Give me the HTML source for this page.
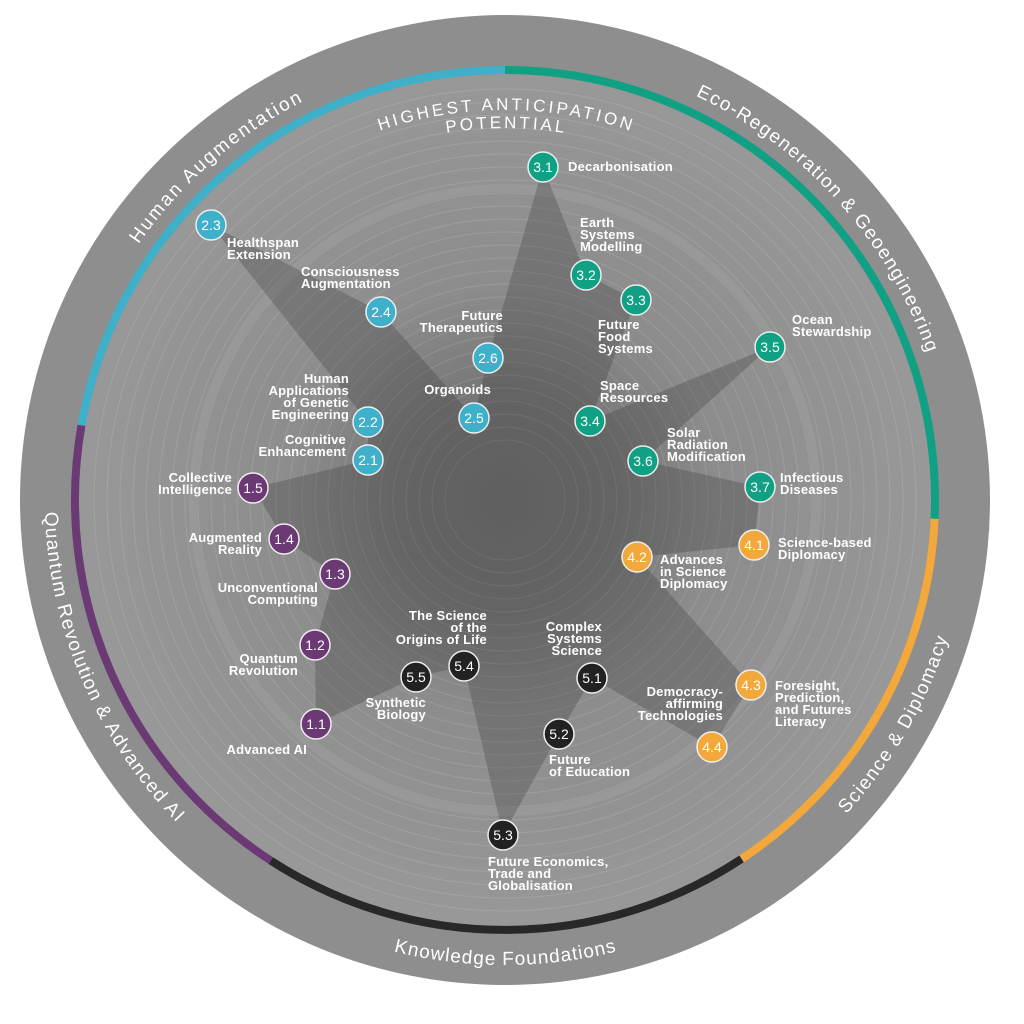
<!DOCTYPE html>
<html><head><meta charset="utf-8"><style>
html,body{margin:0;padding:0;background:#fff;width:1024px;height:1024px;overflow:hidden}
.w{position:relative;width:1024px;height:1024px}
svg{position:absolute;left:0;top:0}
.l{position:absolute;font-family:"Liberation Sans",sans-serif;font-weight:bold;font-size:13px;letter-spacing:0.2px;line-height:12px;color:#fff;white-space:nowrap}
.r{text-align:right}
</style></head><body><div class="w">
<svg width="1024" height="1024" viewBox="0 0 1024 1024">
<defs>
<radialGradient id="cg" cx="505" cy="500" r="426" gradientUnits="userSpaceOnUse">
<stop offset="0" stop-color="#707070"/><stop offset="0.25" stop-color="#767676"/><stop offset="0.5" stop-color="#8c8c8c"/><stop offset="1" stop-color="#989898"/>
</radialGradient>
<path id="pHA" d="M167.6,793.3 A447,447 0 0 1 842.4,206.7"/>
<path id="pEco" d="M205.9,167.8 A447,447 0 0 1 804.1,832.2"/>
<path id="pH1" d="M115,500 A390,390 0 0 1 895,500"/>
<path id="pH2" d="M133,500 A372,372 0 0 1 877,500"/>
<path id="pSci" d="M272.5,902.7 A465,465 0 0 0 737.5,97.3"/>
<path id="pKn" d="M40,500 A465,465 0 0 0 970,500"/>
<path id="pQ" d="M323.3,72 A465,465 0 0 0 686.7,928"/>
</defs>
<circle cx="505" cy="500" r="485" fill="#8e8e8e"/>
<circle cx="505" cy="500" r="426" fill="url(#cg)"/>
<g fill="none" stroke="rgba(255,255,255,0.12)" stroke-width="1">
<circle cx="505" cy="500" r="60"/><circle cx="505" cy="500" r="73"/><circle cx="505" cy="500" r="86"/><circle cx="505" cy="500" r="99"/><circle cx="505" cy="500" r="112"/><circle cx="505" cy="500" r="125"/><circle cx="505" cy="500" r="138"/><circle cx="505" cy="500" r="151"/><circle cx="505" cy="500" r="164"/><circle cx="505" cy="500" r="177"/><circle cx="505" cy="500" r="190"/><circle cx="505" cy="500" r="203"/><circle cx="505" cy="500" r="216"/><circle cx="505" cy="500" r="229"/><circle cx="505" cy="500" r="242"/><circle cx="505" cy="500" r="255"/><circle cx="505" cy="500" r="268"/><circle cx="505" cy="500" r="281"/><circle cx="505" cy="500" r="294"/><circle cx="505" cy="500" r="307"/><circle cx="505" cy="500" r="320"/><circle cx="505" cy="500" r="333"/><circle cx="505" cy="500" r="346"/><circle cx="505" cy="500" r="359"/><circle cx="505" cy="500" r="372"/><circle cx="505" cy="500" r="385"/><circle cx="505" cy="500" r="398"/><circle cx="505" cy="500" r="411"/>
</g>
<circle cx="505" cy="500" r="312" fill="none" stroke="rgba(255,255,255,0.07)" stroke-width="8"/>
<polygon fill="rgba(55,55,55,0.28)" points="543,167 586,275 636,300 590,421 770,347 643,461 760,487 754,545 637,557 751,685 712,747 592,678 559,734 503,835 464,666 416,677 316,724 315,645 335,574 284,539 253,488 368,460 368,422 211,225 381,312 474,418 488,358"/>
<g fill="none" stroke-width="8">
<path d="M505,70 A430,430 0 0 1 934.6,518.8" stroke="#10a083"/>
<path d="M934.6,518.8 A430,430 0 0 1 741.6,858.9" stroke="#f2a83a"/>
<path d="M741.6,858.9 A430,430 0 0 1 270.8,860.6" stroke="#282828"/>
<path d="M270.8,860.6 A430,430 0 0 1 81.5,425.3" stroke="#6b3a75"/>
<path d="M81.5,425.3 A430,430 0 0 1 505,70" stroke="#3eb0c9"/>
</g>
<g font-family="Liberation Sans, sans-serif" fill="#fff" font-size="19" text-anchor="middle">
<text><textPath href="#pHA" startOffset="50%" textLength="220" lengthAdjust="spacing">Human Augmentation</textPath></text>
<text><textPath href="#pEco" startOffset="50%" textLength="355" lengthAdjust="spacing">Eco-Regeneration &amp; Geoengineering</textPath></text>
<text><textPath href="#pSci" startOffset="50%" textLength="205" lengthAdjust="spacing">Science &amp; Diplomacy</textPath></text>
<text><textPath href="#pKn" startOffset="50%" textLength="225" lengthAdjust="spacing">Knowledge Foundations</textPath></text>
<text><textPath href="#pQ" startOffset="50%" textLength="345" lengthAdjust="spacing">Quantum Revolution &amp; Advanced AI</textPath></text>
<text font-size="17"><textPath href="#pH1" startOffset="50%" textLength="255" lengthAdjust="spacing">HIGHEST ANTICIPATION</textPath></text>
<text font-size="17"><textPath href="#pH2" startOffset="50%" textLength="118" lengthAdjust="spacing">POTENTIAL</textPath></text>
</g>
<g stroke="#eee" stroke-width="1.5">
<g fill="#10a083"><circle cx="543" cy="167" r="15"/><circle cx="586" cy="275" r="15"/><circle cx="636" cy="300" r="15"/><circle cx="770" cy="347" r="15"/><circle cx="590" cy="421" r="15"/><circle cx="643" cy="461" r="15"/><circle cx="760" cy="487" r="15"/></g>
<g fill="#f2a83a"><circle cx="754" cy="545" r="15"/><circle cx="637" cy="557" r="15"/><circle cx="751" cy="685" r="15"/><circle cx="712" cy="747" r="15"/></g>
<g fill="#222"><circle cx="592" cy="678" r="15"/><circle cx="559" cy="734" r="15"/><circle cx="503" cy="835" r="15"/><circle cx="464" cy="666" r="15"/><circle cx="416" cy="677" r="15"/></g>
<g fill="#6b3a75"><circle cx="316" cy="724" r="15"/><circle cx="315" cy="645" r="15"/><circle cx="335" cy="574" r="15"/><circle cx="284" cy="539" r="15"/><circle cx="253" cy="488" r="15"/></g>
<g fill="#3eb0c9"><circle cx="368" cy="460" r="15"/><circle cx="368" cy="422" r="15"/><circle cx="211" cy="225" r="15"/><circle cx="381" cy="312" r="15"/><circle cx="474" cy="418" r="15"/><circle cx="488" cy="358" r="15"/></g>
</g>
<g fill="#fff" font-family="Liberation Sans, sans-serif" font-size="14" text-anchor="middle">
<text x="543" y="172">3.1</text><text x="586" y="280">3.2</text><text x="636" y="305">3.3</text><text x="770" y="352">3.5</text><text x="590" y="426">3.4</text><text x="643" y="466">3.6</text><text x="760" y="492">3.7</text>
<text x="754" y="550">4.1</text><text x="637" y="562">4.2</text><text x="751" y="690">4.3</text><text x="712" y="752">4.4</text>
<text x="592" y="683">5.1</text><text x="559" y="739">5.2</text><text x="503" y="840">5.3</text><text x="464" y="671">5.4</text><text x="416" y="682">5.5</text>
<text x="316" y="729">1.1</text><text x="315" y="650">1.2</text><text x="335" y="579">1.3</text><text x="284" y="544">1.4</text><text x="253" y="493">1.5</text>
<text x="368" y="465">2.1</text><text x="368" y="427">2.2</text><text x="211" y="230">2.3</text><text x="381" y="317">2.4</text><text x="474" y="423">2.5</text><text x="488" y="363">2.6</text>
</g>
</svg>
<div class="l" style="left:568px;top:161px">Decarbonisation</div>
<div class="l" style="left:580px;top:217px">Earth<br>Systems<br>Modelling</div>
<div class="l" style="left:598px;top:319px">Future<br>Food<br>Systems</div>
<div class="l" style="left:792px;top:314px">Ocean<br>Stewardship</div>
<div class="l" style="left:600px;top:380px">Space<br>Resources</div>
<div class="l" style="left:667px;top:427px">Solar<br>Radiation<br>Modification</div>
<div class="l" style="left:780px;top:472px">Infectious<br>Diseases</div>
<div class="l" style="left:778px;top:537px">Science-based<br>Diplomacy</div>
<div class="l" style="left:660px;top:554px">Advances<br>in Science<br>Diplomacy</div>
<div class="l" style="left:775px;top:680px">Foresight,<br>Prediction,<br>and Futures<br>Literacy</div>
<div class="l r" style="right:301px;top:686px">Democracy-<br>affirming<br>Technologies</div>
<div class="l r" style="right:422px;top:621px">Complex<br>Systems<br>Science</div>
<div class="l" style="left:549px;top:754px">Future<br>of Education</div>
<div class="l" style="left:488px;top:856px">Future Economics,<br>Trade and<br>Globalisation</div>
<div class="l r" style="right:537px;top:610px">The Science<br>of the<br>Origins of Life</div>
<div class="l r" style="right:598px;top:697px">Synthetic<br>Biology</div>
<div class="l r" style="right:717px;top:744px">Advanced AI</div>
<div class="l r" style="right:726px;top:653px">Quantum<br>Revolution</div>
<div class="l r" style="right:706px;top:582px">Unconventional<br>Computing</div>
<div class="l r" style="right:762px;top:532px">Augmented<br>Reality</div>
<div class="l r" style="right:792px;top:472px">Collective<br>Intelligence</div>
<div class="l r" style="right:678px;top:434px">Cognitive<br>Enhancement</div>
<div class="l r" style="right:675px;top:373px">Human<br>Applications<br>of Genetic<br>Engineering</div>
<div class="l r" style="right:533px;top:384px">Organoids</div>
<div class="l r" style="right:521px;top:310px">Future<br>Therapeutics</div>
<div class="l" style="left:301px;top:266px">Consciousness<br>Augmentation</div>
<div class="l" style="left:227px;top:237px">Healthspan<br>Extension</div>
</div></body></html>
